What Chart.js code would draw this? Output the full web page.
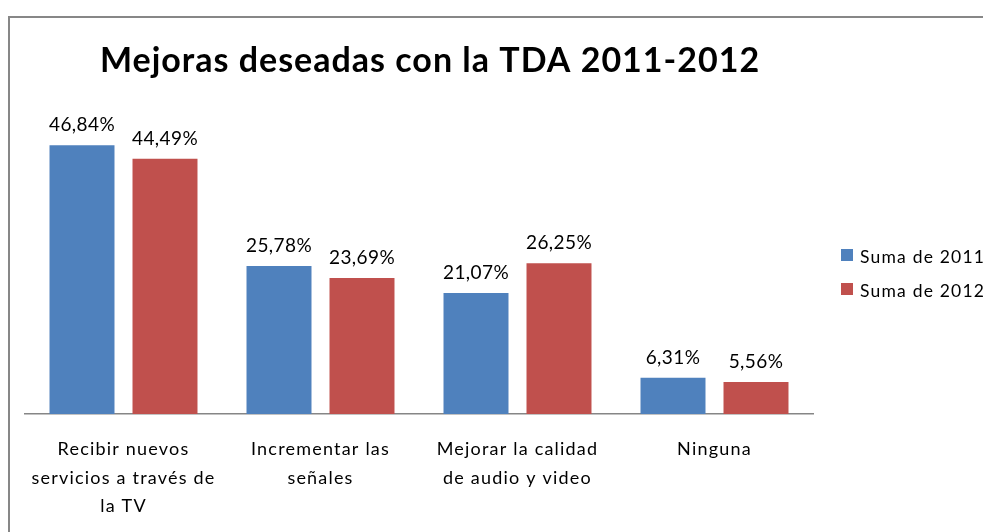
<!DOCTYPE html>
<html><head><meta charset="utf-8">
<script src="https://cdn.jsdelivr.net/npm/chart.js@4"></script>
<style>html,body{margin:0;padding:0;background:#fff;overflow:hidden}
#wrap{position:relative;width:983px;height:532px}
canvas{display:block}
</style></head><body>
<div id="wrap"><canvas id="c" width="983" height="532"></canvas></div>
<script>
const categories = [["Recibir nuevos","servicios a través de","la TV"],["Incrementar las","señales"],["Mejorar la calidad","de audio y video"],["Ninguna"]];
const seriesNames = ["Suma de 2011","Suma de 2012"];
const values2011 = [46.84,25.78,21.07,6.31];
const values2012 = [44.49,23.69,26.25,5.56];
const titleText = "Mejoras deseadas con la TDA 2011-2012";
const seriesColors = ["#4F81BD","#C0504D"];

const FONT = "Lato";
const fmt = v => v.toFixed(2).replace('.', ',') + '%';

const framePlugin = {
  id: 'frame',
  beforeDraw(chart) {
    const ctx = chart.ctx;
    ctx.save();
    ctx.fillStyle = '#fff';
    ctx.fillRect(0, 0, chart.width, chart.height);
    ctx.fillStyle = '#878787';
    ctx.fillRect(8, 16, chart.width - 8, 2);
    ctx.fillRect(8, 16, 2, chart.height - 16);
    ctx.restore();
    ctx.letterSpacing = '1.2px';
  },
  afterDraw(chart) {
    chart.ctx.letterSpacing = '0px';
  }
};

const titlePlugin = {
  id: 'customTitle',
  afterDraw(chart) {
    const ctx = chart.ctx;
    ctx.save();
    ctx.letterSpacing = '1px';
    ctx.font = `bold 34px ${FONT}`;
    ctx.fillStyle = '#000';
    ctx.textAlign = 'center';
    ctx.textBaseline = 'alphabetic';
    ctx.fillText(titleText, 430, 72);
    ctx.restore();
  }
};

const dataLabelPlugin = {
  id: 'dataLabels',
  afterDatasetsDraw(chart) {
    const ctx = chart.ctx;
    ctx.save();
    ctx.letterSpacing = '0.4px';
    ctx.font = `19px ${FONT}`;
    ctx.fillStyle = '#000';
    ctx.textAlign = 'center';
    ctx.textBaseline = 'alphabetic';
    chart.data.datasets.forEach((ds, di) => {
      chart.getDatasetMeta(di).data.forEach((bar, i) => {
        ctx.fillText(fmt(ds.data[i]), bar.x, bar.y - 14);
      });
    });
    ctx.restore();
  }
};

const legendPlugin = {
  id: 'customLegend',
  afterDraw(chart) {
    const ctx = chart.ctx;
    ctx.save();
    ctx.letterSpacing = '1.2px';
    ctx.font = `17.5px ${FONT}`;
    ctx.textBaseline = 'alphabetic';
    ctx.textAlign = 'left';
    chart.data.datasets.forEach((ds, i) => {
      const y = 249 + i * 34;
      ctx.fillStyle = ds.backgroundColor;
      ctx.fillRect(841, y, 12, 12);
      ctx.fillStyle = '#000';
      ctx.fillText(ds.label, 860, y + 14);
    });
    ctx.restore();
  }
};

new Chart(document.getElementById('c'), {
  type: 'bar',
  data: {
    labels: categories,
    datasets: [
      { label: seriesNames[0], data: values2011, backgroundColor: seriesColors[0] },
      { label: seriesNames[1], data: values2012, backgroundColor: seriesColors[1] }
    ]
  },
  options: {
    responsive: false,
    animation: false,
    devicePixelRatio: 1,
    categoryPercentage: 0.8426,
    barPercentage: 0.783,
    layout: { padding: { left: 25, right: 170, top: 127, bottom: 0 } },
    plugins: { legend: { display: false }, title: { display: false }, tooltip: { enabled: false } },
    scales: {
      x: {
        grid: { display: false, drawTicks: false },
        border: { display: true, color: '#868686', width: 1.5 },
        ticks: { color: '#000', padding: 21, maxRotation: 0, autoSkip: false, font: { family: FONT, size: 18, lineHeight: 28.5/18 } },
        afterFit(scale) { scale.height = 118; }
      },
      y: { display: false, min: 0, max: 50 }
    }
  },
  plugins: [framePlugin, titlePlugin, dataLabelPlugin, legendPlugin]
});
</script>
</body></html>
